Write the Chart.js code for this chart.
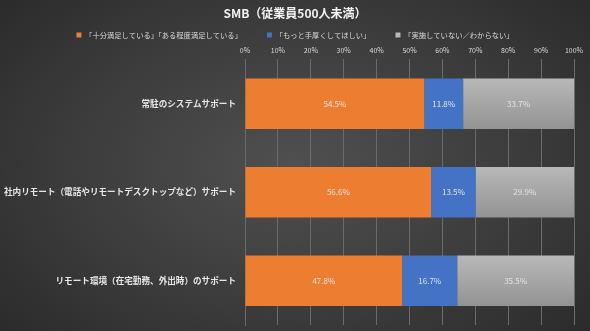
<!DOCTYPE html>
<html>
<head>
<meta charset="utf-8">
<script src="https://cdn.jsdelivr.net/npm/chart.js@4/dist/chart.umd.min.js"></script>
<style>
  html, body { margin: 0; padding: 0; }
  body {
    width: 590px; height: 331px; overflow: hidden;
    background: radial-gradient(ellipse 75% 85% at 50% 50%, #505050 0%, #3a3a3a 55%, #262626 100%);
  }
  #wrap { width: 590px; height: 331px; }
</style>
</head>
<body>
<div id="wrap"><canvas id="chart"></canvas></div>
<script>
"use strict";

// Chart data
const categories = [
    "常駐のシステムサポート",
    "社内リモート（電話やリモートデスクトップなど）サポート",
    "リモート環境（在宅勤務、外出時）のサポート"
];
const seriesNames = [
    "「十分満足している」「ある程度満足している」",
    "「もっと手厚くしてほしい」",
    "「実施していない／わからない」"
];
const satisfied = [54.5, 56.6, 47.8];
const wantMore  = [11.8, 13.5, 16.7];
const none      = [33.7, 29.9, 35.5];

const fontFamily = "'Noto Sans CJK JP', 'Noto Sans', sans-serif";
const barPct = 0.57;

// Grey bars get a light-to-dark vertical gradient
function greyFill(context) {
    const chart = context.chart;
    const yScale = chart.scales.y;
    if (!chart.chartArea || !yScale || !Number.isFinite(yScale.height) || yScale.height <= 0) {
        return "#a6a6a6";
    }
    const y = yScale.getPixelForValue(context.dataIndex);
    const h = yScale.height / categories.length * barPct;
    if (!Number.isFinite(y)) return "#a6a6a6";
    const g = chart.ctx.createLinearGradient(0, y - h / 2, 0, y + h / 2);
    g.addColorStop(0, "#b8b8b8");
    g.addColorStop(1, "#939393");
    return g;
}

// Draw the value inside each segment
const valueLabels = {
    id: "valueLabels",
    afterDatasetsDraw(chart) {
        const ctx = chart.ctx;
        ctx.save();
        ctx.font = "8px " + fontFamily;
        ctx.fillStyle = "#e3e3e3";
        ctx.textAlign = "center";
        ctx.textBaseline = "middle";
        chart.data.datasets.forEach((ds, i) => {
            const meta = chart.getDatasetMeta(i);
            meta.data.forEach((bar, j) => {
                const cx = (bar.x + bar.base) / 2;
                ctx.fillText(ds.data[j].toFixed(1) + "%", cx, bar.y);
            });
        });
        ctx.restore();
    }
};

// Vertical axes: fixed width, no extra top/bottom padding
function fixVertical(width) {
    return scale => {
        scale.width = width;
        scale.paddingTop = 0;
        scale.paddingBottom = 0;
    };
}

const config = {
    type: "bar",
    data: {
        labels: categories,
        datasets: [
            { label: seriesNames[0], data: satisfied, backgroundColor: "#ED7D31" },
            { label: seriesNames[1], data: wantMore,  backgroundColor: "#4472C4" },
            { label: seriesNames[2], data: none,      backgroundColor: greyFill }
        ]
    },
    options: {
        indexAxis: "y",
        responsive: false,
        animation: false,
        layout: { padding: { left: 0, right: 0, top: 4, bottom: 6 } },
        datasets: {
            bar: { barPercentage: barPct, categoryPercentage: 1.0, borderWidth: 0 }
        },
        plugins: {
            title: {
                display: true,
                text: "SMB（従業員500人未満）",
                color: "#f2f2f2",
                font: { family: fontFamily, size: 12, weight: "bold" },
                padding: { top: 2, bottom: -14 }
            },
            legend: {
                position: "top",
                maxHeight: 36,
                labels: {
                    color: "#d9d9d9",
                    font: { family: fontFamily, size: 7.3 },
                    boxWidth: 5,
                    boxHeight: 5,
                    padding: 25
                }
            },
            tooltip: { enabled: false }
        },
        scales: {
            x: {
                position: "top",
                stacked: true,
                min: 0,
                max: 100,
                ticks: {
                    stepSize: 10,
                    color: "#d9d9d9",
                    font: { family: fontFamily, size: 7 },
                    padding: 5,
                    callback: v => v + "%"
                },
                grid: { color: "#6b6b6b", drawTicks: false },
                border: { display: false },
                afterFit: scale => { scale.height = 17; }
            },
            y: {
                stacked: true,
                ticks: {
                    color: "#e6e6e6",
                    font: { family: fontFamily, size: 8.6, weight: "bold" },
                    padding: 9
                },
                grid: { display: false, drawTicks: false },
                border: { color: "#6b6b6b" },
                afterFit: fixVertical(245)
            },
            // empty right-hand spacer so the plot stops short of the edge
            spacer: {
                type: "category",
                axis: "y",
                position: "right",
                ticks: { display: false },
                grid: { display: false, drawTicks: false },
                border: { display: false },
                afterFit: fixVertical(16)
            }
        }
    },
    plugins: [valueLabels]
};

const canvas = document.getElementById("chart");
canvas.width = 590;
canvas.height = 331;
const chart = new Chart(canvas.getContext("2d"), config);
</script>
</body>
</html>
